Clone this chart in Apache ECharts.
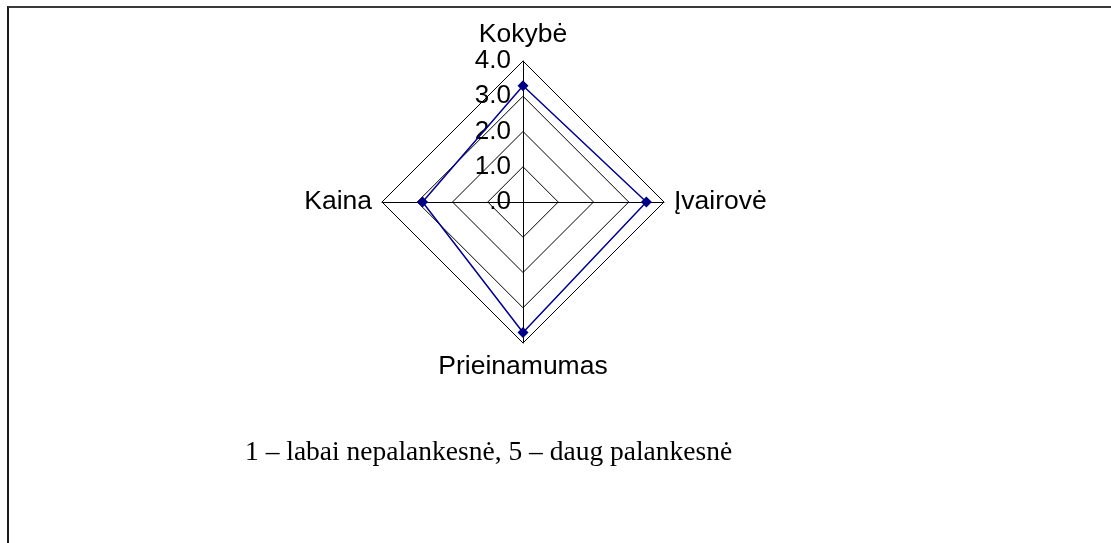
<!DOCTYPE html>
<html>
<head>
<meta charset="utf-8">
<script src="https://cdn.jsdelivr.net/npm/echarts@6/dist/echarts.min.js"></script>
<style>
  html, body { margin: 0; padding: 0; background: #fff; }
  #frame {
    position: absolute; left: 7px; top: 6px; width: 1104px; height: 537px;
    border-top: 2px solid #3a3a3a; border-left: 2px solid #1a1a1a;
  }
  #chart { position: absolute; left: 0; top: 0; width: 1111px; height: 543px; }
</style>
</head>
<body>
<div id="frame"></div>
<div id="chart"></div>
<script>
// ECharts radar places indicators counter-clockwise from the top
const indicatorNames = ['Kokybė', 'Kaina', 'Prieinamumas', 'Įvairovė']
const ratings = [3.3, 2.85, 3.7, 3.5]
const scaleMax = 4
const tickCount = 4
const footnote = '1 – labai nepalankesnė, 5 – daug palankesnė'

const chart = echarts.init(document.getElementById('chart'))

const sans = '"Liberation Sans", Arial, sans-serif'

const indicators = indicatorNames.map((name, i) => {
  const ind = { name, min: 0, max: scaleMax }
  // only the top axis carries the value labels
  if (i !== 0) ind.axisLabel = { show: false }
  return ind
})

chart.setOption({
  animation: false,
  title: {
    text: footnote,
    left: 245,
    top: 439,
    padding: 0,
    textStyle: {
      fontFamily: '"Liberation Serif", "Times New Roman", serif',
      fontWeight: 'normal',
      fontSize: 27.5,
      color: '#000'
    }
  },
  radar: {
    center: [523, 202],
    radius: 141,
    startAngle: 90,
    shape: 'polygon',
    splitNumber: tickCount,
    indicator: indicators,
    nameGap: 10,
    axisName: {
      color: '#000',
      fontFamily: sans,
      fontSize: 26.5
    },
    axisLine: { lineStyle: { color: '#000', width: 1 } },
    splitLine: { lineStyle: { color: '#000', width: 1 } },
    splitArea: { show: false },
    axisTick: { show: false },
    axisLabel: {
      show: true,
      margin: 12,
      color: '#000',
      fontFamily: sans,
      fontSize: 26,
      formatter: (v) => (v === 0 ? '.0' : Number(v).toFixed(1))
    }
  },
  series: [
    {
      type: 'radar',
      symbol: 'diamond',
      symbolSize: 11,
      lineStyle: { color: '#000080', width: 1.5 },
      itemStyle: { color: '#000080' },
      data: [{ value: ratings, name: 'Vertinimas' }]
    }
  ]
})
</script>
</body>
</html>
